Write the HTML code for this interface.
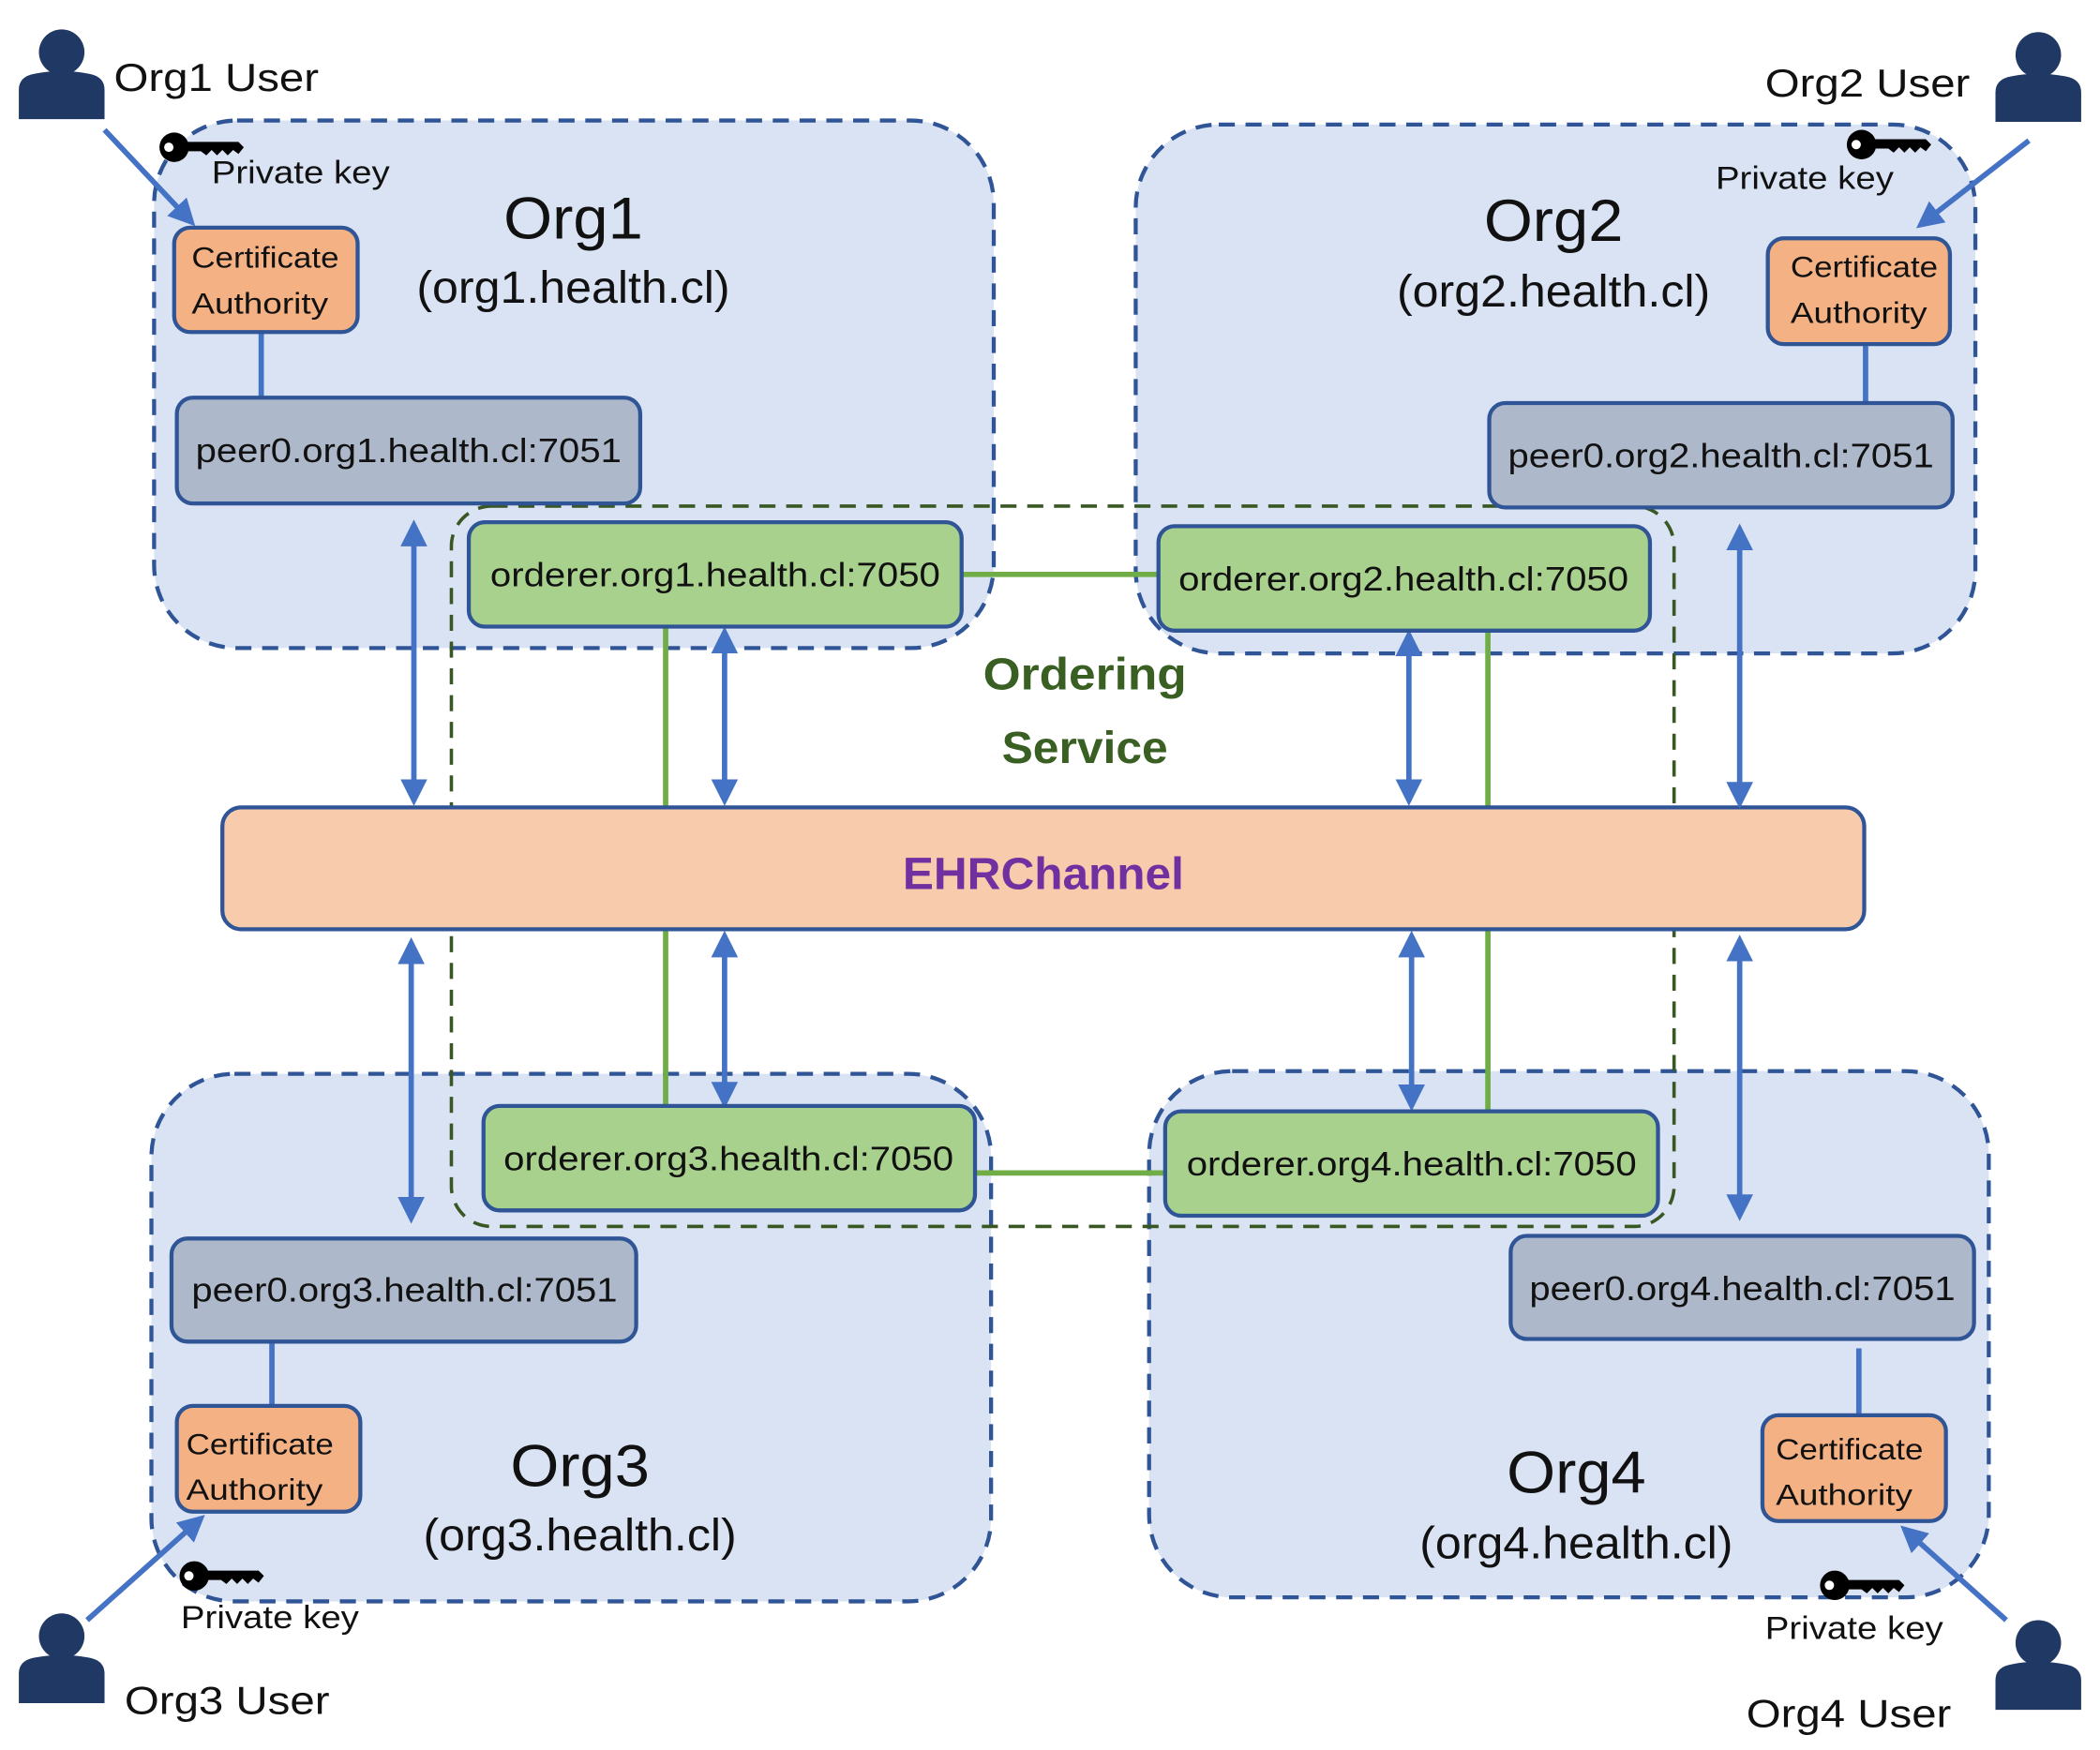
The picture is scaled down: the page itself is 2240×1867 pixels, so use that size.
<!DOCTYPE html>
<html><head><meta charset="utf-8"><style>
html,body{margin:0;padding:0;background:#fff;}
svg{display:block;}
text{font-family:"Liberation Sans",sans-serif;fill:#111;}
</style></head><body>
<svg width="2240" height="1867" viewBox="0 0 1568 1307" xmlns="http://www.w3.org/2000/svg">
<defs>
<marker id="ah" viewBox="0 0 10 10" refX="8" refY="5" markerWidth="5" markerHeight="5" orient="auto-start-reverse"><path d="M0,0 L10,5 L0,10 z" fill="#4472c4"/></marker>
<g id="key"><circle cx="12" cy="12" r="11" fill="#000"/><circle cx="8" cy="12" r="3.5" fill="#fff"/><path d="M18,8 L60,8 L64,12 L60,17 L56,14 L52,18 L48,14 L44,18 L40,14 L36,18 L32,15 L18,15 z" fill="#000"/></g>
<g id="user"><circle cx="0" cy="-16" r="17" fill="#203864"/><path d="M-32,34 L-32,12 Q-32,2 -20,0 Q0,-4 20,0 Q32,2 32,12 L32,34 z" fill="#203864"/></g>
</defs>
<g fill="#dae3f3" stroke="#2f5597" stroke-width="3" stroke-dasharray="12 8">
<rect x="115" y="90" width="627" height="394" rx="62"/>
<rect x="848" y="93" width="627" height="395" rx="62"/>
<rect x="113" y="802" width="627" height="394" rx="62"/>
<rect x="858" y="800" width="627" height="393" rx="62"/>
</g>
<rect x="337" y="378" width="913" height="538" rx="30" fill="none" stroke="#385723" stroke-width="2.5" stroke-dasharray="12 8"/>
<g stroke="#4472c4" stroke-width="4">
<line x1="195" y1="248" x2="195" y2="297"/><line x1="1393" y1="257" x2="1393" y2="301"/>
<line x1="203" y1="1002" x2="203" y2="1050"/><line x1="1388" y1="1007" x2="1388" y2="1057"/>
</g>
<g stroke="#70ad47" stroke-width="4">
<line x1="718" y1="429" x2="865" y2="429"/><line x1="728" y1="876" x2="870" y2="876"/>
<line x1="497" y1="468" x2="497" y2="828"/><line x1="1111" y1="471" x2="1111" y2="832"/>
</g>
<rect x="166" y="603" width="1226" height="91" rx="14" fill="#f8cbad" stroke="#2f5597" stroke-width="3"/>
<g stroke="#4472c4" stroke-width="4" marker-start="url(#ah)" marker-end="url(#ah)">
<line x1="309" y1="392" x2="309" y2="598"/><line x1="541" y1="472" x2="541" y2="598"/>
<line x1="1052" y1="474" x2="1052" y2="598"/><line x1="1299" y1="395" x2="1299" y2="600"/>
<line x1="307" y1="704" x2="307" y2="910"/><line x1="541" y1="699" x2="541" y2="824"/>
<line x1="1054" y1="699" x2="1054" y2="826"/><line x1="1299" y1="702" x2="1299" y2="908"/>
</g>
<g stroke="#4472c4" stroke-width="4" marker-end="url(#ah)">
<line x1="78" y1="97" x2="143" y2="166"/><line x1="1515" y1="105" x2="1434" y2="168"/>
<line x1="65" y1="1210" x2="150" y2="1134"/><line x1="1498" y1="1210" x2="1422" y2="1142"/>
</g>
<g stroke="#2f5597" stroke-width="3">
<rect x="130" y="170" width="137" height="78" rx="12" fill="#f4b183"/>
<rect x="1320" y="178" width="136" height="79" rx="12" fill="#f4b183"/>
<rect x="132" y="1050" width="137" height="79" rx="12" fill="#f4b183"/>
<rect x="1316" y="1057" width="137" height="79" rx="12" fill="#f4b183"/>
<rect x="132" y="297" width="346" height="79" rx="12" fill="#adb9ca"/>
<rect x="1112" y="301" width="346" height="78" rx="12" fill="#adb9ca"/>
<rect x="128" y="925" width="347" height="77" rx="12" fill="#adb9ca"/>
<rect x="1128" y="923" width="346" height="77" rx="12" fill="#adb9ca"/>
<rect x="350" y="390" width="368" height="78" rx="12" fill="#a9d18e"/>
<rect x="865" y="393" width="367" height="78" rx="12" fill="#a9d18e"/>
<rect x="361" y="826" width="367" height="78" rx="12" fill="#a9d18e"/>
<rect x="870" y="830" width="368" height="78" rx="12" fill="#a9d18e"/>
</g>
<use href="#user" x="46" y="55"/><use href="#user" x="1522" y="57"/>
<use href="#user" x="46" y="1238"/><use href="#user" x="1522" y="1243"/>
<use href="#key" x="118" y="98"/><use href="#key" x="1378" y="96"/>
<use href="#key" x="133" y="1165"/><use href="#key" x="1358" y="1172"/>
<g font-size="22">
<text x="143" y="200" textLength="110" lengthAdjust="spacingAndGlyphs">Certificate</text><text x="143" y="234" textLength="102" lengthAdjust="spacingAndGlyphs">Authority</text>
<text x="1337" y="207" textLength="110" lengthAdjust="spacingAndGlyphs">Certificate</text><text x="1337" y="241" textLength="102" lengthAdjust="spacingAndGlyphs">Authority</text>
<text x="139" y="1086" textLength="110" lengthAdjust="spacingAndGlyphs">Certificate</text><text x="139" y="1120" textLength="102" lengthAdjust="spacingAndGlyphs">Authority</text>
<text x="1326" y="1090" textLength="110" lengthAdjust="spacingAndGlyphs">Certificate</text><text x="1326" y="1124" textLength="102" lengthAdjust="spacingAndGlyphs">Authority</text>
</g>
<g font-size="25" text-anchor="middle">
<text x="305" y="345" textLength="318" lengthAdjust="spacingAndGlyphs">peer0.org1.health.cl:7051</text>
<text x="1285" y="349" textLength="318" lengthAdjust="spacingAndGlyphs">peer0.org2.health.cl:7051</text>
<text x="302" y="972" textLength="318" lengthAdjust="spacingAndGlyphs">peer0.org3.health.cl:7051</text>
<text x="1301" y="971" textLength="318" lengthAdjust="spacingAndGlyphs">peer0.org4.health.cl:7051</text>
<text x="534" y="438" textLength="336" lengthAdjust="spacingAndGlyphs">orderer.org1.health.cl:7050</text>
<text x="1048" y="441" textLength="336" lengthAdjust="spacingAndGlyphs">orderer.org2.health.cl:7050</text>
<text x="544" y="874" textLength="336" lengthAdjust="spacingAndGlyphs">orderer.org3.health.cl:7050</text>
<text x="1054" y="878" textLength="336" lengthAdjust="spacingAndGlyphs">orderer.org4.health.cl:7050</text>
</g>
<g font-size="29">
<text x="85" y="68" textLength="153" lengthAdjust="spacingAndGlyphs">Org1 User</text><text x="1318" y="72" textLength="153" lengthAdjust="spacingAndGlyphs">Org2 User</text>
<text x="93" y="1280" textLength="153" lengthAdjust="spacingAndGlyphs">Org3 User</text><text x="1304" y="1290" textLength="153" lengthAdjust="spacingAndGlyphs">Org4 User</text>
</g>
<g font-size="24">
<text x="158" y="137" textLength="133" lengthAdjust="spacingAndGlyphs">Private key</text><text x="1281" y="141" textLength="133" lengthAdjust="spacingAndGlyphs">Private key</text>
<text x="135" y="1216" textLength="133" lengthAdjust="spacingAndGlyphs">Private key</text><text x="1318" y="1224" textLength="133" lengthAdjust="spacingAndGlyphs">Private key</text>
</g>
<g text-anchor="middle">
<text x="428" y="178" font-size="44" textLength="104" lengthAdjust="spacingAndGlyphs">Org1</text><text x="428" y="226" font-size="34" textLength="234" lengthAdjust="spacingAndGlyphs">(org1.health.cl)</text>
<text x="1160" y="180" font-size="44" textLength="104" lengthAdjust="spacingAndGlyphs">Org2</text><text x="1160" y="229" font-size="34" textLength="234" lengthAdjust="spacingAndGlyphs">(org2.health.cl)</text>
<text x="433" y="1110" font-size="44" textLength="104" lengthAdjust="spacingAndGlyphs">Org3</text><text x="433" y="1158" font-size="34" textLength="234" lengthAdjust="spacingAndGlyphs">(org3.health.cl)</text>
<text x="1177" y="1115" font-size="44" textLength="104" lengthAdjust="spacingAndGlyphs">Org4</text><text x="1177" y="1164" font-size="34" textLength="234" lengthAdjust="spacingAndGlyphs">(org4.health.cl)</text>
<text x="810" y="515" font-size="34" font-weight="bold" style="fill:#3a5f22" textLength="152" lengthAdjust="spacingAndGlyphs">Ordering</text>
<text x="810" y="570" font-size="34" font-weight="bold" style="fill:#3a5f22" textLength="124" lengthAdjust="spacingAndGlyphs">Service</text>
<text x="779" y="664" font-size="34" font-weight="bold" style="fill:#7030a0" textLength="210" lengthAdjust="spacingAndGlyphs">EHRChannel</text>
</g>
</svg>
</body></html>
